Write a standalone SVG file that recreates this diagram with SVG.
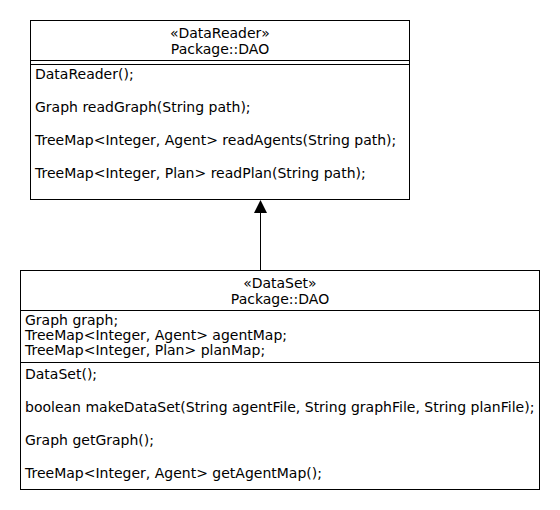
<svg xmlns="http://www.w3.org/2000/svg" width="560" height="510" viewBox="0 0 560 510">
<style>
.box{fill:#fff;stroke:#000;stroke-width:1}
.ln{stroke:#000;stroke-width:1;fill:none}
text{font-family:"DejaVu Sans",sans-serif;font-size:14px;fill:#000}
.c{text-anchor:middle}
</style>
<rect width="560" height="510" fill="#fff"/>
<g id="connectors">
<line class="ln" x1="260.5" y1="270" x2="260.5" y2="213"/>
<path d="M254,213 L260.5,200 L267,213 Z" fill="#000"/>
</g>
<g id="DataReader">
<rect class="box" x="30.5" y="20.5" width="379" height="179"/>
<line class="ln" x1="30.5" y1="60.5" x2="409.5" y2="60.5"/>
<line class="ln" x1="30.5" y1="64.5" x2="409.5" y2="64.5"/>
<text class="c" x="220" y="38">«DataReader»</text>
<text class="c" x="220" y="54">Package::DAO</text>
<text x="35" y="79">DataReader();</text>
<text x="35" y="112">Graph readGraph(String path);</text>
<text x="35" y="145">TreeMap&lt;Integer, Agent&gt; readAgents(String path);</text>
<text x="35" y="178">TreeMap&lt;Integer, Plan&gt; readPlan(String path);</text>
</g>
<g id="DataSet">
<rect class="box" x="20.5" y="270.5" width="519" height="219"/>
<line class="ln" x1="20.5" y1="310.5" x2="539.5" y2="310.5"/>
<line class="ln" x1="20.5" y1="362.5" x2="539.5" y2="362.5"/>
<text class="c" x="280" y="288">«DataSet»</text>
<text class="c" x="280" y="304">Package::DAO</text>
<text x="25" y="325">Graph graph;</text>
<text x="25" y="340">TreeMap&lt;Integer, Agent&gt; agentMap;</text>
<text x="25" y="355">TreeMap&lt;Integer, Plan&gt; planMap;</text>
<text x="25" y="379">DataSet();</text>
<text x="25" y="412">boolean makeDataSet(String agentFile, String graphFile, String planFile);</text>
<text x="25" y="445">Graph getGraph();</text>
<text x="25" y="478">TreeMap&lt;Integer, Agent&gt; getAgentMap();</text>
</g>
</svg>
